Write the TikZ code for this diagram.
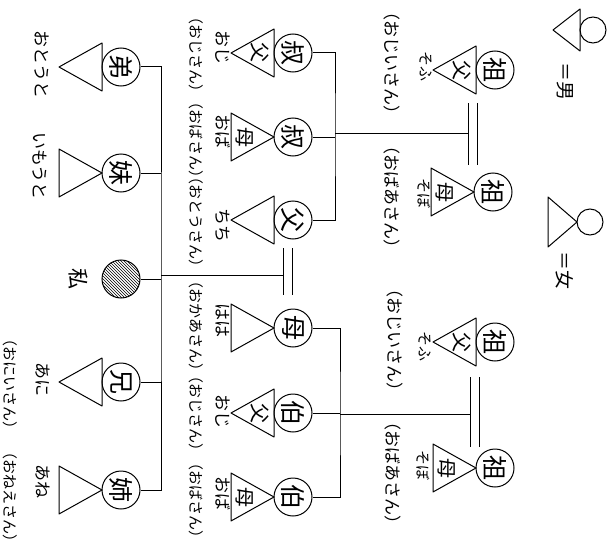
\documentclass[tikz,border=0pt]{standalone}
\usepackage{fontspec}
\newfontfamily\jp{Noto Sans CJK JP}
\usetikzlibrary{patterns,calc}
\tikzset{
  link/.style={line width=1pt},
  head/.style={circle,draw,line width=1pt,minimum size=38pt,inner sep=0pt,rotate=-90,font=\jp\fontsize{25}{25}\selectfont},
  mehead/.style={circle,draw,line width=1pt,minimum size=38pt,inner sep=0pt,pattern=north west lines},
  body/.style={draw,line width=1pt,line join=round},
  inbody/.style={inner sep=0pt,rotate=-90,font=\jp\fontsize{20}{20}\selectfont},
  yomi/.style={inner sep=0pt,rotate=-90,font=\jp\fontsize{17}{17}\selectfont},
  yomis/.style={inner sep=0pt,rotate=-90,font=\jp\fontsize{15}{15}\selectfont},
  kakko/.style={inner sep=0pt,rotate=-90,font=\jp\fontsize{15}{15}\selectfont},
  wed/.style={double,double distance=8pt,line width=1pt},
  pics/man/.style 2 args={code={
    \node[head] (-h) at (0,0) {#1};
    \draw[body] (-19,-24) -- (-19,24) -- (-62,0) -- cycle;
    \node[inbody] (-b) at (-33,0) {#2};
  }},
  pics/woman/.style 2 args={code={
    \node[head] (-h) at (0,0) {#1};
    \draw[body] (-19,0) -- (-62,-24) -- (-62,24) -- cycle;
    \node[inbody] (-b) at (-48,0) {#2};
  }},
}
\begin{document}
\begin{tikzpicture}[x=1pt,y=-1pt]
\useasboundingbox (0,0) rectangle (613,551);
% grandparents
\pic (gfa) at (495,70) {man={祖}{父}};
\pic (gma) at (493,192) {woman={祖}{母}};
\pic (gfb) at (495,342) {man={祖}{父}};
\pic (gmb) at (495,468) {woman={祖}{母}};
% parents, uncles and aunts
\pic (oji1) at (293,53) {man={叔}{父}};
\pic (oba1) at (293,137) {woman={叔}{母}};
\pic (chichi) at (293,220) {man={父}{}};
\pic (haha) at (293,328) {woman={母}{}};
\pic (oji2) at (293,413) {man={伯}{父}};
\pic (oba2) at (293,497) {woman={伯}{母}};
% me and siblings
\pic (otouto) at (121,67) {man={弟}{}};
\pic (imouto) at (121,173) {woman={妹}{}};
\node[mehead] (watashi) at (121,279) {};
\pic (ani) at (121,382) {man={兄}{}};
\pic (ane) at (121,490) {woman={姉}{}};

% junctions
\coordinate (j1) at (473,133);
\coordinate (j2) at (475,414);
\coordinate (j3) at (287.5,275);
\coordinate (b1) at (335,133);
\coordinate (b2) at (340,414);
\coordinate (b3) at (161,275);

\draw[link] (j1) -- (b1);
\draw[link] (oji1-h.north) -| (b1) |- (chichi-h.north);
\draw[link] (oba1-h.north) -- (oba1-h.north -| b1);
\draw[link] (j2) -- (b2);
\draw[link] (haha-h.north) -| (b2) |- (oba2-h.north);
\draw[link] (oji2-h.north) -- (oji2-h.north -| b2);
\draw[link] (j3) -- (b3);
\draw[link] (otouto-h.north) -| (b3) |- (ane-h.north);
\draw[link] (imouto-h.north) -- (imouto-h.north -| b3);
\draw[link] (watashi.east) -- (watashi.east -| b3);
\draw[link] (ani-h.north) -- (ani-h.north -| b3);
\draw[wed,shorten <=33pt,shorten >=27pt] (gfa-h.center -| j1) -- (gma-h.center -| j1);
\draw[wed,shorten <=35pt,shorten >=21pt] (gfb-h.center -| j2) -- (gmb-h.center -| j2);
\draw[wed,shorten <=28pt,shorten >=33pt] (chichi-h.center -| j3) -- (haha-h.center -| j3);

% readings
\node[yomis] (sofu1) at (426,67) {そふ};
\node[yomis] (sobo1) at (424,193) {そぼ};
\node[yomis] (sofu2) at (425,346) {そふ};
\node[yomis] (sobo2) at (423,465) {そぼ};
\node[yomi] (r1) at (392,63) {（おじいさん）};
\node[yomi] (r2) at (392,197) {（おばあさん）};
\node[yomi] (r3) at (395,340) {（おじいさん）};
\node[yomi] (r4) at (393,473) {（おばあさん）};
\node[yomi] (oji1y) at (223,48) {おじ};
\node[yomi] (oba1y) at (223,131) {おば};
\node[yomi] (chichiy) at (223,225) {ちち};
\node[yomi] (hahay) at (223,320) {はは};
\node[yomi] (oji2y) at (223,411) {おじ};
\node[yomi] (oba2y) at (223,493) {おば};
\node[kakko] (k1) at (196,55) {（おじさん）};
\node[kakko] (k2) at (196,140) {（おばさん）};
\node[kakko] (k3) at (196,222) {（おとうさん）};
\node[kakko] (k4) at (196,326) {（おかあさん）};
\node[kakko] (k5) at (196,413) {（おじさん）};
\node[kakko] (k6) at (196,500) {（おばさん）};
\node[yomi] (otoutoy) at (42,65) {おとうと};
\node[yomi] (imoutoy) at (40,166) {いもうと};
\node[yomi,font=\jp\fontsize{21}{21}\selectfont] (watashiy) at (78,279) {私};
\node[yomi] (aniy) at (43,379) {あに};
\node[yomi] (aney) at (43,481) {あね};
\node[kakko] (k7) at (10,384) {（おにいさん）};
\node[kakko] (k8) at (10,497) {（おねえさん）};

% key
\node[head,minimum size=26pt] (keym) at (593,30) {};
\draw[body] (580,9) -- (580,51) -- (553,30) -- cycle;
\node[yomi,font=\jp\fontsize{19}{19}\selectfont] (keymt) at (565,82) {＝男};
\node[head,minimum size=26pt] (keyf) at (590,222) {};
\draw[body] (577,222) -- (548,197) -- (548,247) -- cycle;
\node[yomi,font=\jp\fontsize{19}{19}\selectfont] (keyft) at (565,270) {＝女};
\end{tikzpicture}
\end{document}
